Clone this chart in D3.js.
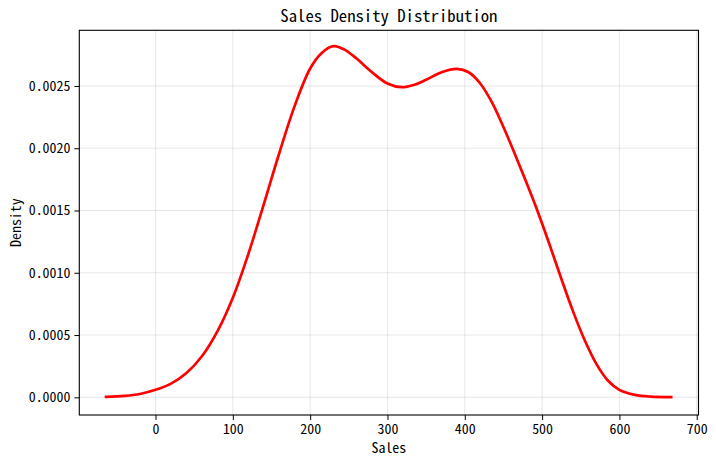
<!DOCTYPE html>
<html><head><meta charset="utf-8">
<script src="https://cdn.jsdelivr.net/npm/d3@7"></script>
<style>body{margin:0;background:#fff}</style>
</head><body><svg id="c" width="716" height="464"></svg>
<script>
const salesX = [-64,-40,-20,0,20,40,60,80,100,120,140,160,180,200,215,230,245,260,280,300,318,335,350,370,390,405,420,435,450,465,480,495,510,525,540,555,570,585,600,620,640,667];
const density = [0.000004,0.000011,0.000027,0.00006,0.00011,0.000195,0.00033,0.00053,0.0008,0.00115,0.00155,0.00196,0.00234,0.00264,0.002765,0.00282,0.00279,0.00272,0.00261,0.00252,0.00249,0.00251,0.00255,0.00261,0.002637,0.00261,0.00252,0.00237,0.00217,0.00195,0.00172,0.00148,0.00122,0.00095,0.00069,0.00046,0.00027,0.000135,0.00006,0.00002,0.000006,0.000002];
const xTicks = [0,100,200,300,400,500,600,700];
const yTicks = [0,0.0005,0.001,0.0015,0.002,0.0025];
const title = "Sales Density Distribution", xLabel = "Sales", yLabel = "Density";

const FONT = '"Noto Sans Mono CJK SC","Liberation Mono","DejaVu Sans Mono",monospace';
const svg = d3.select("#c");
const L = 79.3, R = 698.5, T = 30.3, B = 415;
const x = d3.scaleLinear().domain([-98.6, 702.3]).range([L, R]);
const y = d3.scaleLinear().domain([-0.000142, 0.002947]).range([B, T]);

function txt(sel, s, size) {
  sel.text(s).attr("font-family", FONT).attr("font-size", size)
    .attr("textLength", s.length * size * 0.5).attr("lengthAdjust", "spacingAndGlyphs");
  return sel;
}

// grid
svg.append("g").selectAll("line").data(xTicks).join("line")
  .attr("x1", d => x(d)).attr("x2", d => x(d)).attr("y1", T).attr("y2", B)
  .attr("stroke", "#b0b0b0").attr("stroke-opacity", 0.3).attr("stroke-width", 1);
svg.append("g").selectAll("line").data(yTicks).join("line")
  .attr("y1", d => y(d)).attr("y2", d => y(d)).attr("x1", L).attr("x2", R)
  .attr("stroke", "#b0b0b0").attr("stroke-opacity", 0.3).attr("stroke-width", 1);

// line
const line = d3.line().x((d, i) => x(salesX[i])).y(d => y(d)).curve(d3.curveCatmullRom.alpha(0.5));
svg.append("path").datum(density).attr("d", line).attr("fill", "none")
  .attr("stroke", "#ff0000").attr("stroke-width", 2.7).attr("stroke-linecap", "square")
  .attr("stroke-linejoin", "round");

// axes
const xa = svg.append("g").attr("transform", `translate(0,${B})`)
  .call(d3.axisBottom(x).tickValues(xTicks).tickSize(4.9).tickPadding(4).tickFormat(d3.format("d")));
const ya = svg.append("g").attr("transform", `translate(${L},0)`)
  .call(d3.axisLeft(y).tickValues(yTicks).tickSize(4.9).tickPadding(4).tickFormat(d3.format(".4f")));
[xa, ya].forEach(a => {
  a.select(".domain").remove();
  a.selectAll(".tick line").attr("stroke", "#000").attr("stroke-width", 1);
  a.selectAll(".tick text").each(function() {
    const s = d3.select(this).text();
    txt(d3.select(this), s, 13.9).attr("fill", "#000");
  });
});

// frame
svg.append("rect").attr("x", L).attr("y", T).attr("width", R - L).attr("height", B - T)
  .attr("fill", "none").attr("stroke", "#000").attr("stroke-width", 1.1);

txt(svg.append("text"), title, 16.7).attr("x", (L + R) / 2).attr("y", 22).attr("text-anchor", "middle");
txt(svg.append("text"), xLabel, 13.9).attr("x", (L + R) / 2).attr("y", 453).attr("text-anchor", "middle");
txt(svg.append("text"), yLabel, 13.9).attr("text-anchor", "middle")
  .attr("transform", `translate(21,${(T + B) / 2}) rotate(-90)`);
</script></body></html>
